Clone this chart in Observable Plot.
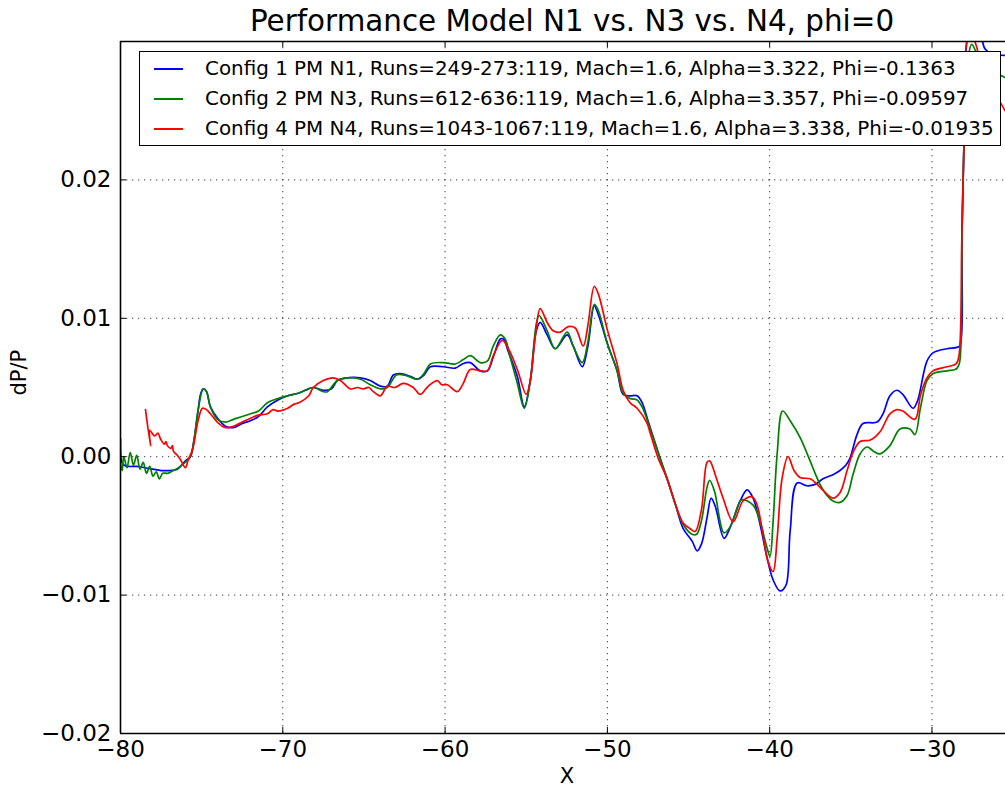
<!DOCTYPE html>
<html>
<head>
<meta charset="utf-8">
<script src="https://cdn.jsdelivr.net/npm/d3@7"></script>
<script src="https://cdn.jsdelivr.net/npm/@observablehq/plot@0.6"></script>
<style>
  html, body { margin: 0; padding: 0; background: #fff; }
  #wrap { position: relative; width: 1005px; height: 789px; overflow: hidden; font-family: "DejaVu Sans", sans-serif; }
  #title { position: absolute; left: 0; top: 7px; width: 1144px; text-align: center; font-size: 29.4px; line-height: 29.4px; color: #000; white-space: nowrap; }
  #legend { position: absolute; left: 139px; top: 51px; width: 860px; height: 93px; border: 1.5px solid #000; background: #fff; }
  .row { position: absolute; left: 0; height: 30px; width: 100%; }
  .swatch { position: absolute; left: 14px; width: 29px; height: 0; border-top: 2px solid; top: 14px; }
  .lab { position: absolute; left: 65px; top: 2px; font-size: 19.9px; line-height: 26px; color: #000; white-space: nowrap; }
  svg { position: absolute; left: 0; top: 0; }
</style>
</head>
<body>
<div id="wrap">
  <div id="chart"></div>
  <div id="title"></div>
  <div id="legend"></div>
</div>
<script>
// ---------- data ----------
const chartTitle = "Performance Model N1 vs. N3 vs. N4, phi=0";
const xLabel = "X";
const yLabel = "dP/P";
const xTicks = [-80, -70, -60, -50, -40, -30];
const yTicks = [-0.02, -0.01, 0.00, 0.01, 0.02];
const xDomain = [-80, -25.47];
const yDomain = [-0.02, 0.03];
const seriesNames = [
  "Config 1 PM N1, Runs=249-273:119, Mach=1.6, Alpha=3.322, Phi=-0.1363",
  "Config 2 PM N3, Runs=612-636:119, Mach=1.6, Alpha=3.357, Phi=-0.09597",
  "Config 4 PM N4, Runs=1043-1067:119, Mach=1.6, Alpha=3.338, Phi=-0.01935"
];

// Config 1 PM N1 (blue): [X, dP/P]
const n1 = [
  [-80.00, 0.0013], [-79.92, -0.0004], [-79.8, -0.0006], [-79.5, -0.0007], [-79.0, -0.0007],
  [-78.5, -0.0008], [-78.0, -0.0009], [-77.5, -0.0010], [-77.0, -0.0010], [-76.5, -0.0009],
  [-76.3, -0.0007], [-76.0, -0.0003], [-75.69, 0.0000], [-75.5, 0.0010], [-75.38, 0.0019],
  [-75.2, 0.0035], [-75.07, 0.0045], [-74.9, 0.0049], [-74.7, 0.0047], [-74.46, 0.0036],
  [-74.03, 0.0028], [-73.53, 0.0022], [-73.04, 0.0021], [-72.5, 0.0024], [-72.0, 0.0026],
  [-71.5, 0.0029], [-70.95, 0.0036], [-70.3, 0.0041], [-69.7, 0.0044], [-69.0, 0.0046],
  [-68.4, 0.0049], [-68.12, 0.0050], [-67.5, 0.0048], [-67.0, 0.0049], [-66.64, 0.0055],
  [-66.02, 0.0057], [-65.22, 0.0057], [-64.61, 0.0055], [-63.99, 0.0051], [-63.56, 0.0051],
  [-63.19, 0.0059], [-62.76, 0.0060], [-62.14, 0.0058], [-61.71, 0.0056], [-61.3, 0.0059],
  [-60.91, 0.0065], [-60.11, 0.0065], [-59.37, 0.0064], [-58.94, 0.0067], [-58.45, 0.0068],
  [-57.83, 0.0062], [-57.4, 0.0062], [-57.03, 0.0072], [-56.6, 0.0085], [-56.4, 0.0085],
  [-56.11, 0.0076], [-55.55, 0.0058], [-55.12, 0.0036], [-54.75, 0.0055], [-54.38, 0.0091],
  [-54.14, 0.0097], [-53.71, 0.0088], [-53.21, 0.0078], [-52.48, 0.0088], [-52.11, 0.0080],
  [-51.55, 0.0065], [-51.2, 0.0080], [-50.81, 0.0109], [-50.57, 0.0103], [-50.01, 0.0082],
  [-49.40, 0.0062], [-49.03, 0.0045], [-48.60, 0.0044], [-48.17, 0.0044], [-47.86, 0.0039],
  [-47.55, 0.0028], [-47.36, 0.0021], [-46.87, 0.0003], [-46.32, -0.0016], [-45.82, -0.0034],
  [-45.33, -0.0052], [-44.78, -0.0061], [-44.47, -0.0068], [-44.2, -0.0063], [-43.86, -0.0044],
  [-43.61, -0.0030], [-43.35, -0.0036], [-42.81, -0.0059], [-42.4, -0.0050], [-41.82, -0.0032],
  [-41.39, -0.0024], [-41.02, -0.0030], [-40.59, -0.0049], [-40.16, -0.0073], [-39.79, -0.0089],
  [-39.36, -0.0097], [-39.0, -0.0093], [-38.74, -0.0054], [-38.31, -0.0019], [-37.70, -0.0021],
  [-37.2, -0.0020], [-36.71, -0.0016], [-36.1, -0.0013], [-35.67, -0.0010], [-35.3, -0.0006],
  [-35.05, -0.0001], [-34.62, 0.0016], [-34.25, 0.0024], [-33.39, 0.0025], [-33.02, 0.0031],
  [-32.59, 0.0044], [-32.16, 0.0048], [-31.8, 0.0045], [-31.17, 0.0035], [-30.9, 0.0040],
  [-30.31, 0.0069], [-29.94, 0.0075], [-29.08, 0.0078], [-28.46, 0.0079], [-28.3, 0.0080],
  [-28.15, 0.0165], [-28.0, 0.0240], [-27.85, 0.0300], [-27.5, 0.0318], [-27.1, 0.0312],
  [-26.75, 0.0295], [-26.3, 0.0291], [-25.5, 0.0290]
];

// Config 2 PM N3 (green)
const n3 = [
  [-80.0, -0.0005], [-79.9, -0.0010], [-79.8, 0.0000], [-79.6, -0.0008], [-79.4, 0.0003],
  [-79.2, -0.0006], [-79.0, 0.0001], [-78.8, -0.0009], [-78.6, -0.0004], [-78.4, -0.0012],
  [-78.2, -0.0007], [-78.0, -0.0014], [-77.8, -0.0011], [-77.6, -0.0016], [-77.4, -0.0012],
  [-77.1, -0.0012], [-76.74, -0.0010], [-76.31, -0.0007], [-76.0, -0.0004], [-75.69, 0.0000],
  [-75.5, 0.0010], [-75.2, 0.0035], [-74.9, 0.0049], [-74.7, 0.0047], [-74.46, 0.0036],
  [-74.03, 0.0027], [-73.53, 0.0025], [-73.04, 0.0027], [-72.5, 0.0029], [-72.0, 0.0031],
  [-71.5, 0.0033], [-70.95, 0.0039], [-70.3, 0.0042], [-69.7, 0.0044], [-69.0, 0.0046],
  [-68.12, 0.0050], [-67.5, 0.0047], [-67.25, 0.0047], [-66.64, 0.0055], [-66.02, 0.0057],
  [-65.22, 0.0056], [-64.61, 0.0052], [-63.99, 0.0049], [-63.56, 0.0050], [-63.0, 0.0059],
  [-62.5, 0.0059], [-61.71, 0.0056], [-61.3, 0.0060], [-60.91, 0.0067], [-60.11, 0.0068],
  [-59.37, 0.0067], [-58.9, 0.0070], [-58.45, 0.0073], [-57.83, 0.0068], [-57.4, 0.0069],
  [-57.03, 0.0080], [-56.6, 0.0088], [-56.3, 0.0085], [-55.99, 0.0072], [-55.55, 0.0053],
  [-55.12, 0.0035], [-54.75, 0.0055], [-54.38, 0.0096], [-54.2, 0.0102], [-53.71, 0.0091],
  [-53.21, 0.0078], [-52.48, 0.0090], [-52.11, 0.0080], [-51.55, 0.0068], [-51.2, 0.0083],
  [-50.81, 0.0110], [-50.57, 0.0106], [-50.01, 0.0082], [-49.40, 0.0062], [-49.03, 0.0046],
  [-48.60, 0.0042], [-48.17, 0.0041], [-47.86, 0.0036], [-47.36, 0.0020], [-46.87, 0.0003],
  [-46.32, -0.0016], [-45.82, -0.0034], [-45.33, -0.0049], [-44.78, -0.0056], [-44.5, -0.0056],
  [-44.2, -0.0046], [-43.86, -0.0022], [-43.7, -0.0017], [-43.4, -0.0025], [-42.81, -0.0055],
  [-42.4, -0.0050], [-41.82, -0.0032], [-41.64, -0.0031], [-41.02, -0.0035], [-40.59, -0.0047],
  [-40.16, -0.0066], [-39.98, -0.0072], [-39.79, -0.0047], [-39.54, 0.0002], [-39.2, 0.0033],
  [-38.74, 0.0026], [-38.13, 0.0014], [-37.51, -0.0003], [-37.2, -0.0012], [-36.9, -0.0020],
  [-36.47, -0.0028], [-36.1, -0.0032], [-35.67, -0.0033], [-35.23, -0.0028], [-34.87, -0.0013],
  [-34.43, 0.0002], [-34.0, 0.0007], [-33.6, 0.0004], [-33.2, 0.0002], [-32.59, 0.0008],
  [-31.97, 0.0020], [-31.36, 0.0020], [-31.05, 0.0016], [-30.7, 0.0036], [-30.31, 0.0055],
  [-29.94, 0.0060], [-29.08, 0.0062], [-28.58, 0.0063], [-28.45, 0.0064], [-28.3, 0.0068],
  [-28.15, 0.0160], [-28.0, 0.0235], [-27.75, 0.0290], [-27.55, 0.0298], [-27.3, 0.0293],
  [-26.8, 0.0283], [-25.5, 0.0274]
];

// Config 4 PM N4 (red)
const n4 = [
  [-78.46, 0.0034], [-78.15, 0.0008], [-78.2, 0.0019], [-77.9, 0.0015], [-77.7, 0.0017],
  [-77.54, 0.0013], [-77.3, 0.0009], [-77.2, 0.0011], [-77.11, 0.0008], [-76.9, 0.0006],
  [-76.8, 0.0008], [-76.74, 0.0004], [-76.5, 0.0001], [-76.31, -0.0002], [-76.0, -0.0008],
  [-75.85, -0.0003], [-75.6, 0.0004], [-75.5, 0.0008], [-75.2, 0.0027], [-74.95, 0.0035],
  [-74.7, 0.0034], [-74.46, 0.0031], [-74.03, 0.0025], [-73.53, 0.0021], [-73.04, 0.0022],
  [-72.5, 0.0025], [-71.95, 0.0028], [-71.5, 0.0030], [-70.95, 0.0031], [-70.6, 0.0034],
  [-70.3, 0.0033], [-69.7, 0.0035], [-69.3, 0.0038], [-69.0, 0.0039], [-68.4, 0.0044],
  [-68.12, 0.0050], [-67.5, 0.0055], [-66.9, 0.0057], [-66.45, 0.0055], [-65.84, 0.0049],
  [-65.4, 0.0050], [-65.04, 0.0049], [-64.7, 0.0050], [-64.42, 0.0047], [-63.99, 0.0044],
  [-63.56, 0.0051], [-63.1, 0.0050], [-62.57, 0.0053], [-61.96, 0.0050], [-61.53, 0.0045],
  [-61.03, 0.0051], [-60.48, 0.0055], [-60.2, 0.0052], [-59.86, 0.0052], [-59.25, 0.0047],
  [-58.88, 0.0053], [-58.45, 0.0063], [-57.83, 0.0062], [-57.4, 0.0062], [-57.03, 0.0073],
  [-56.48, 0.0084], [-56.1, 0.0078], [-55.55, 0.0063], [-55.0, 0.0045], [-54.75, 0.0055],
  [-54.45, 0.0086], [-54.14, 0.0107], [-53.71, 0.0097], [-53.34, 0.0091], [-52.91, 0.0090],
  [-52.41, 0.0094], [-51.98, 0.0093], [-51.49, 0.0080], [-51.2, 0.0095], [-50.81, 0.0123],
  [-50.57, 0.0118], [-50.01, 0.0092], [-49.40, 0.0067], [-49.03, 0.0048], [-48.60, 0.0039],
  [-48.17, 0.0035], [-47.55, 0.0024], [-47.36, 0.0017], [-46.87, -0.0001], [-46.32, -0.0016],
  [-45.82, -0.0034], [-45.33, -0.0048], [-44.90, -0.0052], [-44.59, -0.0054], [-44.2, -0.0038],
  [-43.86, -0.0004], [-43.7, -0.0003], [-43.3, -0.0015], [-42.87, -0.0030], [-42.25, -0.0047],
  [-41.64, -0.0032], [-41.08, -0.0029], [-40.8, -0.0034], [-40.5, -0.0050], [-40.10, -0.0076],
  [-39.79, -0.0083], [-39.54, -0.0059], [-39.24, -0.0016], [-38.87, 0.0000], [-38.5, -0.0010],
  [-38.13, -0.0015], [-37.5, -0.0016], [-37.08, -0.0020], [-36.47, -0.0027], [-36.10, -0.0030],
  [-35.67, -0.0026], [-35.23, -0.0010], [-34.87, 0.0003], [-34.43, 0.0011], [-33.8, 0.0012],
  [-33.2, 0.0018], [-32.59, 0.0031], [-32.16, 0.0034], [-31.8, 0.0033], [-31.05, 0.0027],
  [-30.7, 0.0045], [-30.31, 0.0057], [-29.94, 0.0062], [-29.08, 0.0065], [-28.52, 0.0067],
  [-28.35, 0.0072], [-28.15, 0.0165], [-28.0, 0.0240], [-27.85, 0.0300], [-27.6, 0.0306],
  [-27.3, 0.0298], [-27.1, 0.0290], [-26.5, 0.0272], [-25.5, 0.0250]
];

// ---------- styling ----------
const colors = ["#0000ff", "#008000", "#ff0000"];
const font = "DejaVu Sans";
const minus = (s) => s.replace("-", "\u2212");
const fmtY = (d) => minus(d.toFixed(2));
const fmtX = (d) => minus(String(d));

const series = [n1, n3, n4].map((pts) => pts.map(([x, y]) => ({x, y})));

const W = 1005, H = 789;
const mL = 120, mR = 0, mT = 41, mB = 56;
const frameW = W - mL - mR, frameH = H - mT - mB;
const tickLen = 6;

const plot = Plot.plot({
  width: W,
  height: H,
  marginLeft: mL,
  marginRight: mR,
  marginTop: mT,
  marginBottom: mB,
  style: { fontFamily: font, fontSize: "23px", color: "#000", background: "#fff", overflow: "visible" },
  x: { domain: xDomain },
  y: { domain: yDomain },
  marks: [
    Plot.gridX(xTicks.slice(1), { stroke: "#000", strokeOpacity: 0.75, strokeWidth: 1, strokeDasharray: "1.3,4.7" }),
    Plot.gridY(yTicks.slice(1), { stroke: "#000", strokeOpacity: 0.75, strokeWidth: 1, strokeDasharray: "1.3,4.7" }),
    ...series.map((s, i) => Plot.line(s, { x: "x", y: "y", stroke: colors[i], strokeWidth: 1.7, curve: "catmull-rom", clip: true })),
    // inward tick marks (left, bottom, top)
    Plot.tickY(yTicks, { y: (d) => d, insetRight: frameW - tickLen, stroke: "#000", strokeWidth: 1 }),
    Plot.tickX(xTicks, { x: (d) => d, insetTop: frameH - tickLen, stroke: "#000", strokeWidth: 1 }),
    Plot.tickX(xTicks, { x: (d) => d, insetBottom: frameH - tickLen, stroke: "#000", strokeWidth: 1 }),
    // spines
    Plot.ruleX([xDomain[0]], { stroke: "#000", strokeWidth: 1.6 }),
    Plot.ruleY([yDomain[0], yDomain[1]], { stroke: "#000", strokeWidth: 1.6 }),
    // tick labels
    Plot.axisY({ ticks: yTicks, tickFormat: fmtY, tickSize: 0, tickPadding: 9, label: null, fontSize: 23 }),
    Plot.axisX({ ticks: xTicks, tickFormat: fmtX, tickSize: 0, tickPadding: 7, label: null, fontSize: 23 }),
    // axis titles
    Plot.text([xLabel], { frameAnchor: "bottom", text: (d) => d, dx: 4, dy: 43, lineAnchor: "middle", fontSize: 21 }),
    Plot.text([yLabel], { frameAnchor: "left", text: (d) => d, rotate: -90, dx: -101, dy: 8, lineAnchor: "middle", fontSize: 21 })
  ]
});
document.getElementById("chart").appendChild(plot);

document.getElementById("title").textContent = chartTitle;

const legend = document.getElementById("legend");
seriesNames.forEach((name, i) => {
  const row = document.createElement("div");
  row.className = "row";
  row.style.top = (i * 30 + 2) + "px";
  const sw = document.createElement("div");
  sw.className = "swatch";
  sw.style.borderTopColor = colors[i];
  const lab = document.createElement("div");
  lab.className = "lab";
  lab.textContent = name;
  row.appendChild(sw);
  row.appendChild(lab);
  legend.appendChild(row);
});
</script>
</body>
</html>
